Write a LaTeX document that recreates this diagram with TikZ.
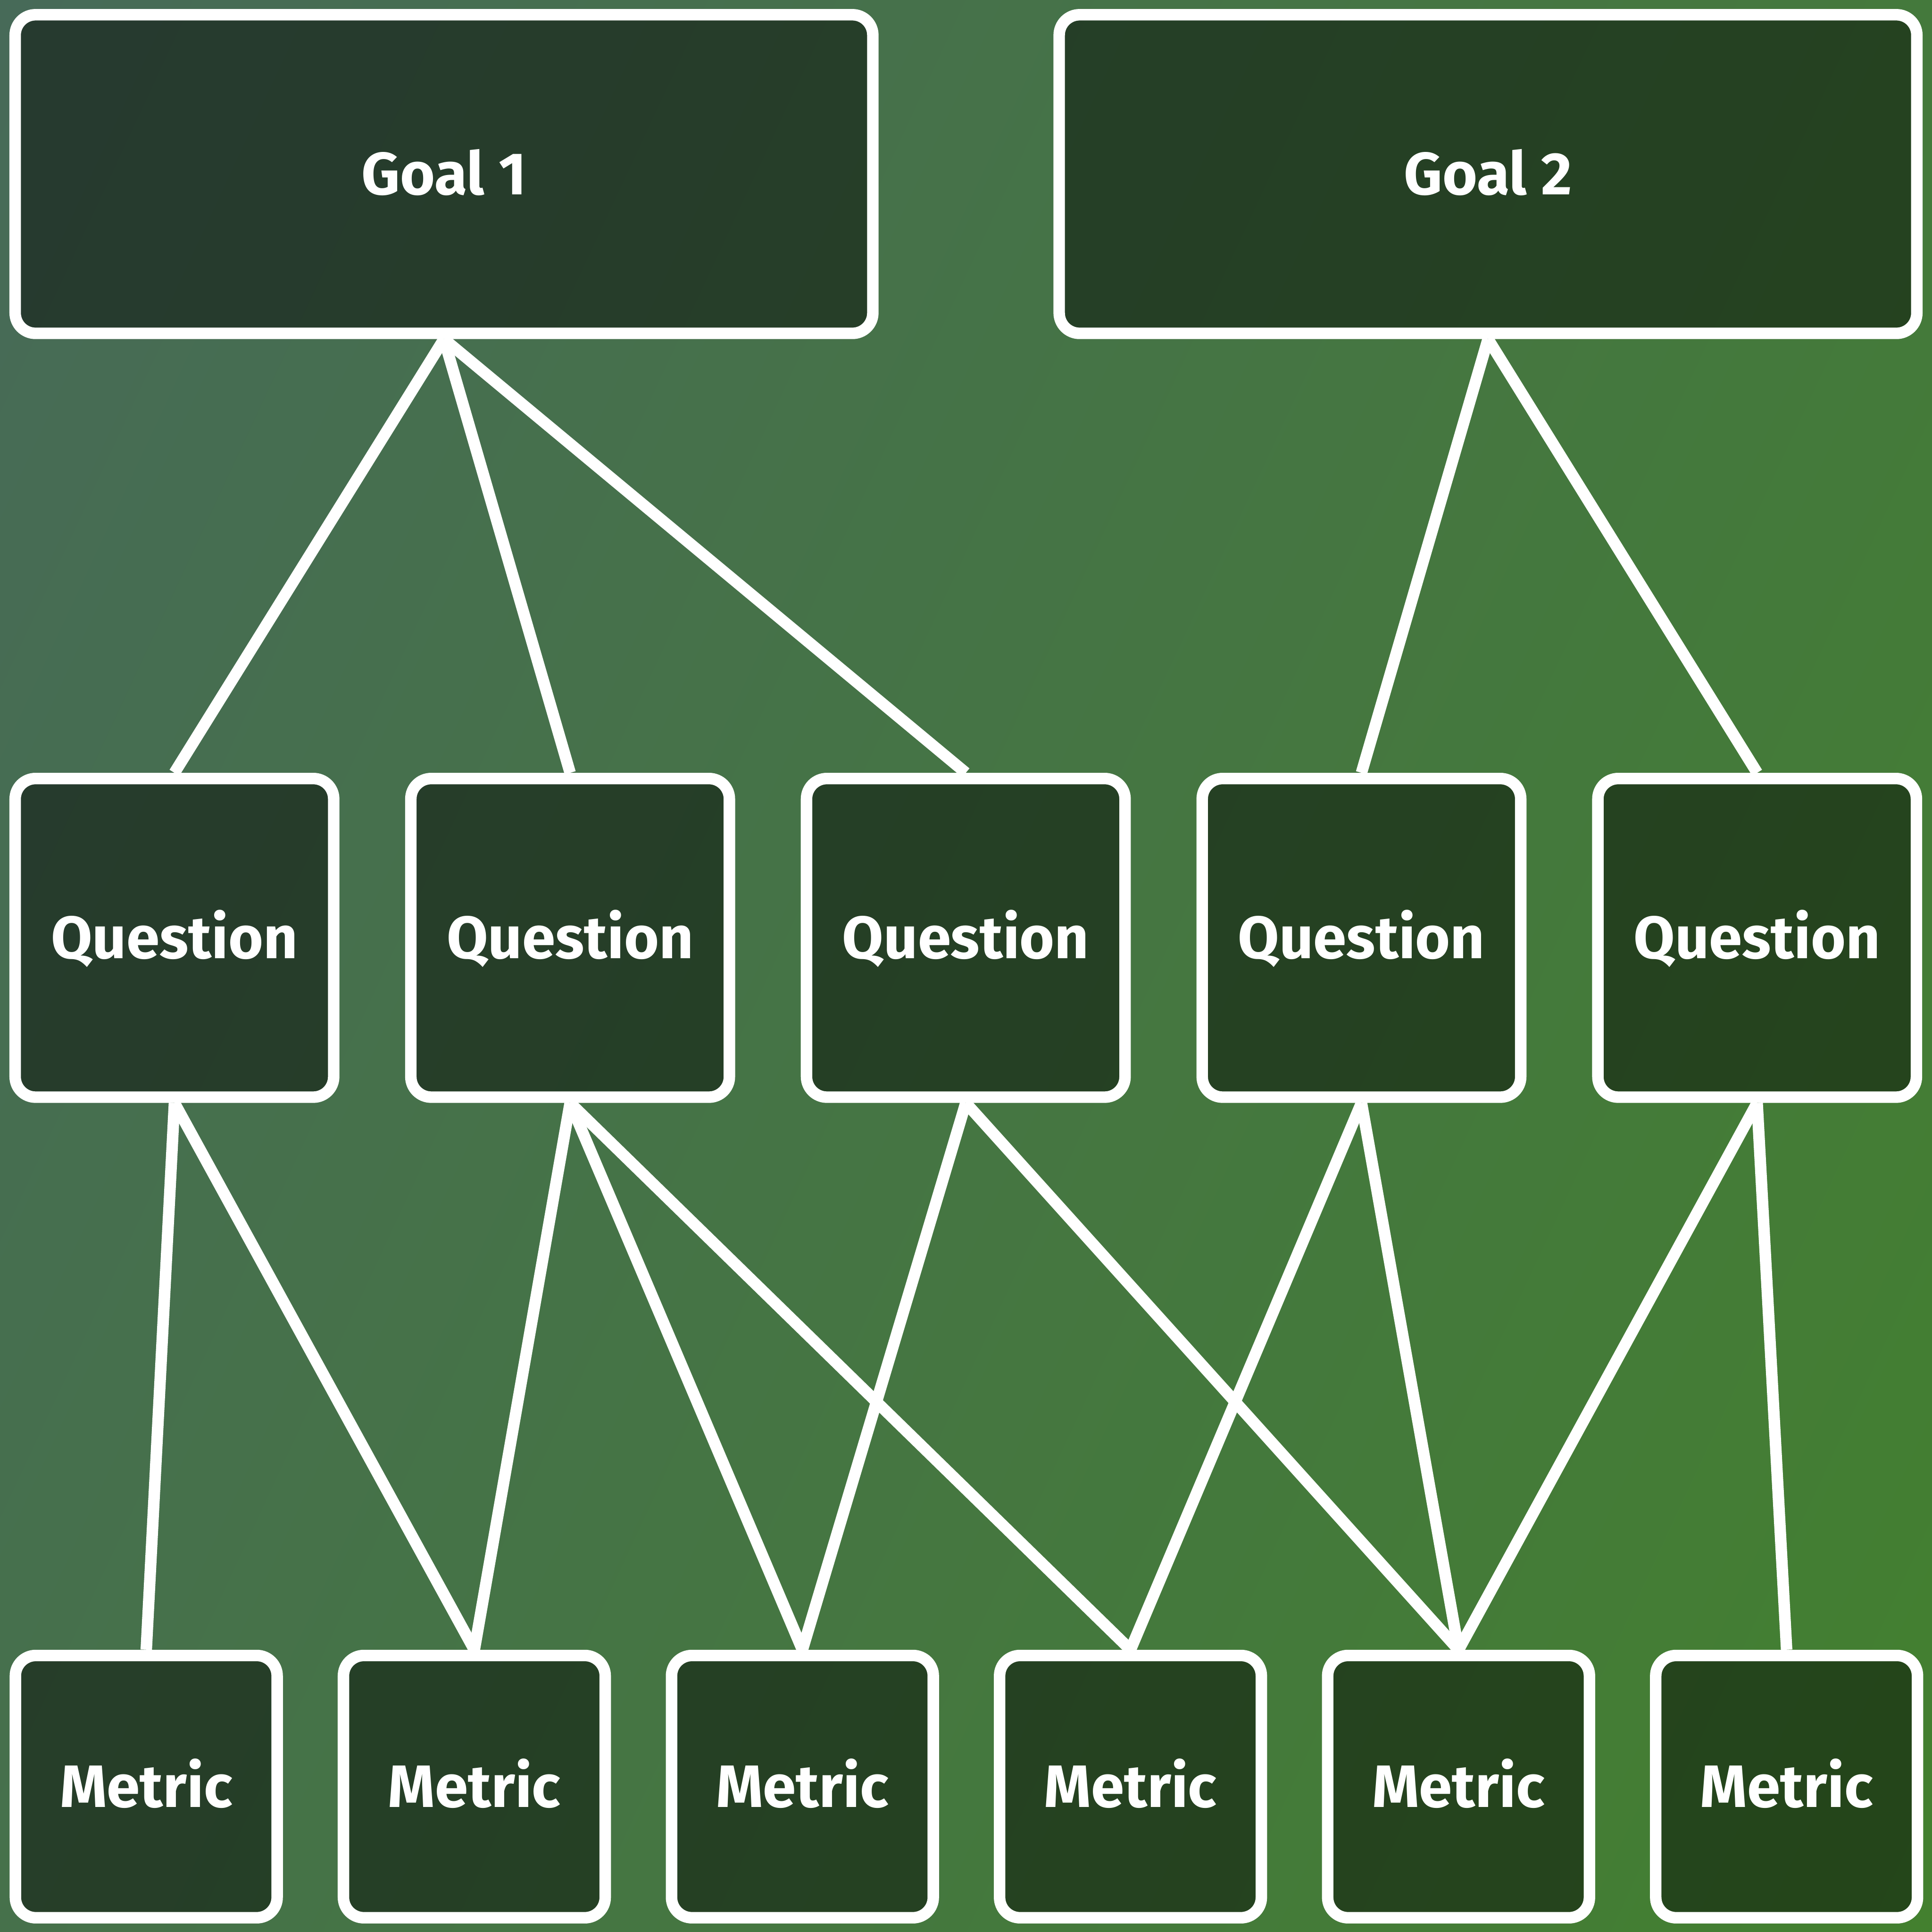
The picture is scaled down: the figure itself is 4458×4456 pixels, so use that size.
\documentclass[tikz,border=0pt]{standalone}
\usepackage{fontspec}
\setmainfont{Fira Sans}
\begin{document}
\begin{tikzpicture}[x=1pt,y=-1pt,
  box/.style={draw=white, line width=26.5pt, rounded corners=47pt,
    fill=black, fill opacity=0.45, text opacity=1, text=white,
    font=\fontsize{138}{156}\selectfont\bfseries,
    text height=95pt, text depth=0pt, inner sep=0pt, align=center},
  goalbox/.style={box, minimum width=1979pt, minimum height=735pt},
  questionbox/.style={box, minimum width=735pt, minimum height=735pt},
  metricbox/.style={box, minimum width=604pt, minimum height=605pt},
  link/.style={draw=white, line width=26.5pt}]

\definecolor{bgstart}{HTML}{476A58}
\definecolor{bgend}{HTML}{43802F}

\useasboundingbox (0,0) rectangle (4458,4456);

% background: linear gradient running 25 degrees below the horizontal
\begin{scope}
  \clip (0,0) rectangle (4458,4456);
  \shade[transform canvas={rotate=-25}, left color=bgstart, right color=bgend]
    (0,-5000) rectangle (5923,5000);
\end{scope}

% goals
\node[goalbox] (g1) at (1024.5,401.5) {Goal 1};
\node[goalbox] (g2) at (3433.5,401.5) {Goal 2};

% questions
\node[questionbox] (q1) at (402.5,2163.5) {Question};
\node[questionbox] (q2) at (1315.5,2163.5) {Question};
\node[questionbox] (q3) at (2228.5,2163.5) {Question};
\node[questionbox] (q4) at (3141.5,2163.5) {Question};
\node[questionbox] (q5) at (4054.5,2163.5) {Question};

% metrics
\node[metricbox] (m1) at (337.5,4121.5) {Metric};
\node[metricbox] (m2) at (1094.5,4121.5) {Metric};
\node[metricbox] (m3) at (1851.5,4121.5) {Metric};
\node[metricbox] (m4) at (2608.5,4121.5) {Metric};
\node[metricbox] (m5) at (3365.5,4121.5) {Metric};
\node[metricbox] (m6) at (4122.5,4121.5) {Metric};

% goal -> question links
\draw[link] (g1.south) -- (q1.north);
\draw[link] (g1.south) -- (q2.north);
\draw[link] (g1.south) -- (q3.north);
\draw[link] (g2.south) -- (q4.north);
\draw[link] (g2.south) -- (q5.north);

% question -> metric links
\draw[link] (q1.south) -- (m1.north);
\draw[link] (q1.south) -- (m2.north);
\draw[link] (q2.south) -- (m2.north);
\draw[link] (q2.south) -- (m3.north);
\draw[link] (q2.south) -- (m4.north);
\draw[link] (q3.south) -- (m3.north);
\draw[link] (q3.south) -- (m5.north);
\draw[link] (q4.south) -- (m4.north);
\draw[link] (q4.south) -- (m5.north);
\draw[link] (q5.south) -- (m5.north);
\draw[link] (q5.south) -- (m6.north);
\end{tikzpicture}
\end{document}
